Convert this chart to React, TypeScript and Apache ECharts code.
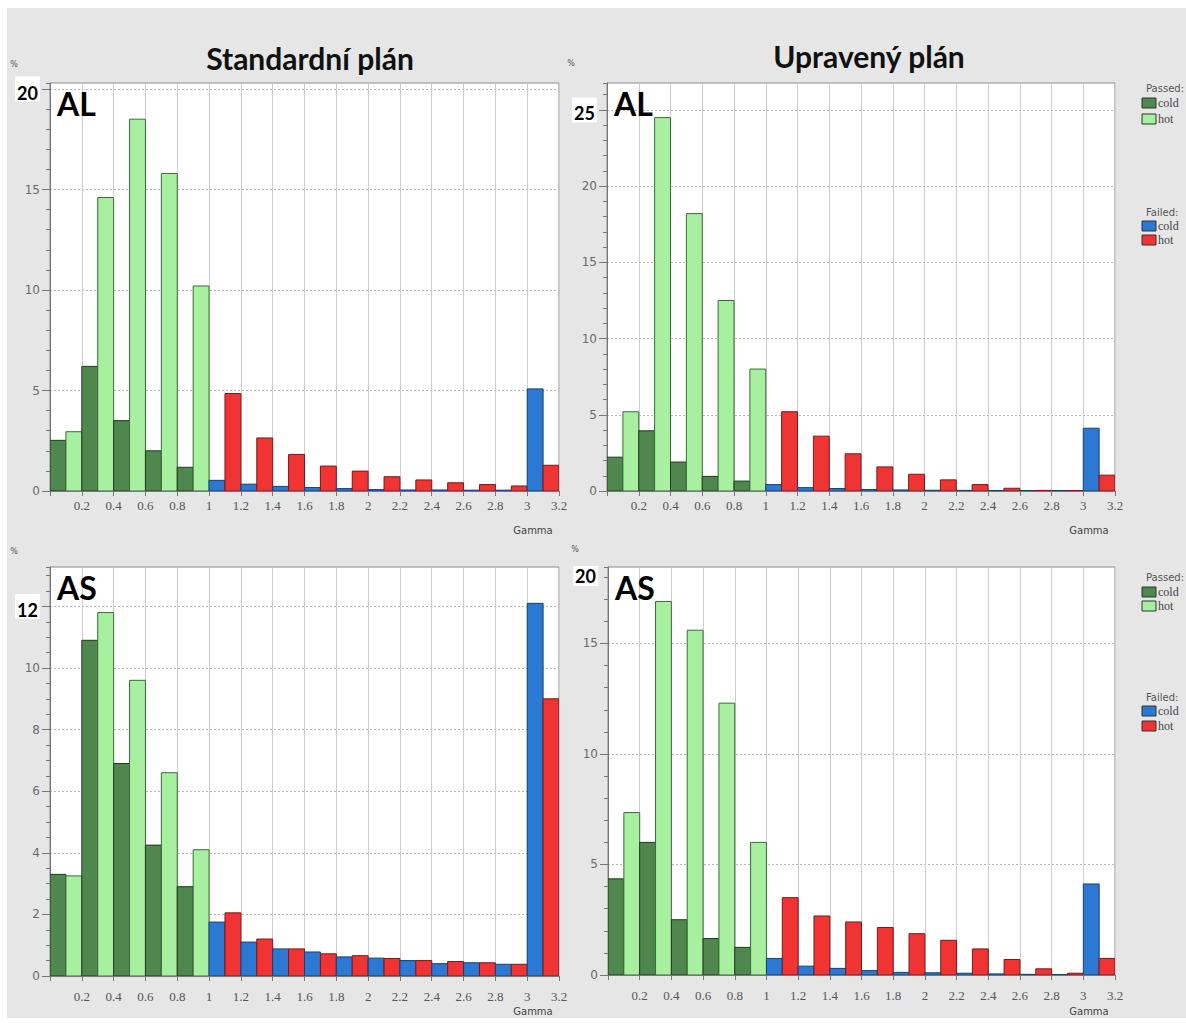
import React, { useEffect, useRef } from "react";
import * as echarts from "echarts";

// ---- data ----
const gammaEdges = [0, 0.2, 0.4, 0.6, 0.8, 1.0, 1.2, 1.4, 1.6, 1.8, 2.0, 2.2, 2.4, 2.6, 2.8, 3.0, 3.2];
const binStatus = [
  "passed", "passed", "passed", "passed", "passed",
  "failed", "failed", "failed", "failed", "failed", "failed", "failed", "failed", "failed", "failed", "failed",
];
const xTickLabels = [0.2, 0.4, 0.6, 0.8, 1, 1.2, 1.4, 1.6, 1.8, 2, 2.2, 2.4, 2.6, 2.8, 3, 3.2];

const yTicksStdAL = [0, 5, 10, 15, 20];
const yTicksUpdAL = [0, 5, 10, 15, 20, 25];
const yTicksStdAS = [0, 2, 4, 6, 8, 10, 12];
const yTicksUpdAS = [0, 5, 10, 15];

const stdALCold = [2.52, 6.2, 3.5, 2.0, 1.18, 0.53, 0.34, 0.23, 0.17, 0.12, 0.07, 0.05, 0.05, 0.04, 0.04, 5.08];
const stdALHot = [2.95, 14.6, 18.5, 15.8, 10.2, 4.85, 2.64, 1.82, 1.24, 0.99, 0.71, 0.55, 0.41, 0.32, 0.25, 1.28];
const updALCold = [2.22, 3.95, 1.9, 0.96, 0.65, 0.42, 0.22, 0.16, 0.1, 0.07, 0.05, 0.04, 0.03, 0.03, 0.03, 4.12];
const updALHot = [5.2, 24.5, 18.2, 12.5, 8.0, 5.2, 3.6, 2.44, 1.58, 1.1, 0.73, 0.42, 0.18, 0.04, 0.03, 1.04];
const stdASCold = [3.3, 10.9, 6.9, 4.25, 2.9, 1.75, 1.1, 0.88, 0.78, 0.62, 0.58, 0.5, 0.4, 0.43, 0.38, 12.1];
const stdASHot = [3.25, 11.8, 9.6, 6.6, 4.1, 2.05, 1.2, 0.88, 0.72, 0.66, 0.57, 0.5, 0.47, 0.43, 0.38, 9.0];
const updASCold = [4.35, 6.0, 2.5, 1.65, 1.25, 0.75, 0.4, 0.3, 0.2, 0.12, 0.1, 0.08, 0.05, 0.03, 0.02, 4.12];
const updASHot = [7.35, 16.9, 15.6, 12.3, 6.0, 3.5, 2.67, 2.4, 2.15, 1.87, 1.57, 1.18, 0.7, 0.28, 0.08, 0.75];

const legendGroups = [
  { title: "Passed:", items: [{ label: "cold", color: 0 }, { label: "hot", color: 1 }] },
  { title: "Failed:", items: [{ label: "cold", color: 2 }, { label: "hot", color: 3 }] },
];

// ---- styles ----
const fills = ["#4f874f", "#a6f0a0", "#2b79d2", "#f03434"];
const strokes = ["#1f3b1f", "#3d6b3a", "#16406f", "#7a1818"];

const panels = [
  { cold: stdALCold, hot: stdALHot, ticks: yTicksStdAL, bold: 20, yMax: 20.3, minor: 1,
    grid: { left: 50, top: 83, width: 509, height: 408 }, name: "AL", gammaY: 530, labelMargin: 8, pct: [14, 64] },
  { cold: updALCold, hot: updALHot, ticks: yTicksUpdAL, bold: 25, yMax: 26.77, minor: 1,
    grid: { left: 607, top: 83, width: 508, height: 408 }, name: "AL", gammaY: 530, labelMargin: 8, pct: [571, 63] },
  { cold: stdASCold, hot: stdASHot, ticks: yTicksStdAS, bold: 12, yMax: 13.28, minor: 0.5,
    grid: { left: 50, top: 567, width: 509, height: 409 }, name: "AS", gammaY: 1011, labelMargin: 14, pct: [14, 551] },
  { cold: updASCold, hot: updASHot, ticks: yTicksUpdAS, bold: -1, yMax: 18.46, minor: 1,
    grid: { left: 608, top: 567, width: 507, height: 408 }, name: "AS", gammaY: 1011, labelMargin: 14, pct: [575, 549] },
];

function buildData(cold: number[], hot: number[]) {
  const out: number[][] = [];
  for (let i = 0; i < cold.length; i++) {
    const x0 = gammaEdges[i];
    const x1 = gammaEdges[i + 1];
    const mid = (x0 + x1) / 2;
    const base = binStatus[i] === "passed" ? 0 : 2;
    out.push([x0, mid, cold[i], base]);
    out.push([mid, x1, hot[i], base + 1]);
  }
  return out;
}

const renderItem = (params: any, api: any) => {
  const x0 = api.value(0);
  const x1 = api.value(1);
  const v = api.value(2);
  const ci = api.value(3);
  const p0 = api.coord([x0, 0]);
  const p1 = api.coord([x1, v]);
  return {
    type: "rect",
    shape: { x: p0[0], y: p1[1], width: p1[0] - p0[0], height: p0[1] - p1[1] },
    style: { fill: fills[ci], stroke: strokes[ci], lineWidth: 1 },
  };
};

function buildLegend(x: number, y: number, offsets: number[]) {
  const els: any[] = [];
  let k = 0;
  legendGroups.forEach((g) => {
    els.push({
      type: "text", x: x + 4, y: y + offsets[k++], z: 50,
      style: { text: g.title, fontFamily: "DejaVu Sans", fontSize: 10, fill: "#555", verticalAlign: "middle" },
    });
    g.items.forEach((it) => {
      const yy = y + offsets[k++];
      els.push({
        type: "rect", z: 50, shape: { x: x, y: yy - 5, width: 14, height: 10 },
        style: { fill: fills[it.color], stroke: "#333", lineWidth: 1 },
      });
      els.push({
        type: "text", x: x + 16, y: yy, z: 50,
        style: { text: it.label, fontFamily: "Liberation Serif", fontSize: 12, fill: "#444", verticalAlign: "middle" },
      });
    });
  });
  return els;
}

export default function App() {
  const ref = useRef<HTMLDivElement>(null);
  useEffect(() => {
    document.body.style.margin = "0";
    document.body.style.overflow = "hidden";
    if (!ref.current) return;
    const chart = echarts.init(ref.current, undefined, { renderer: "svg" });

    const grids = panels.map((p) => ({
      ...p.grid, show: true, backgroundColor: "#ffffff", borderColor: "#8a8a8a", borderWidth: 1,
    }));

    const xAxes = panels.map((p, i) => ({
      gridIndex: i, type: "value", min: 0, max: 3.2, interval: 0.2,
      axisLine: { show: true, onZero: false, lineStyle: { color: "#777" } },
      axisTick: { show: true, length: 5, lineStyle: { color: "#777" } },
      axisLabel: {
        color: "#555", fontFamily: "Liberation Serif", fontSize: 13, margin: p.labelMargin,
        formatter: (v: number) => {
          const r = Math.round(v * 10) / 10;
          return xTickLabels.includes(r) ? String(r) : "";
        },
      },
      splitLine: { show: true, lineStyle: { color: "#cdcdcd", width: 1 } },
    }));

    const minorAxes = panels.map((p, i) => ({
      gridIndex: i, type: "value", min: 0, max: p.yMax, interval: p.minor,
      axisLine: { show: true, onZero: false, lineStyle: { color: "#777" } },
      axisTick: { show: true, length: 4, lineStyle: { color: "#777" } },
      axisLabel: { show: false },
      splitLine: { show: false },
    }));

    const majorAxes = panels.map((p, i) => ({
      gridIndex: i, type: "value", min: 0, max: p.yMax, interval: p.ticks[1] - p.ticks[0],
      position: "left",
      axisLine: { show: false },
      axisTick: { show: true, length: 8, lineStyle: { color: "#777" }, customValues: p.ticks },
      axisLabel: {
        customValues: p.ticks,
        color: "#6a6a6a", fontFamily: "DejaVu Sans", fontSize: 12, margin: 10,
        formatter: (v: number) => {
          if (!p.ticks.includes(v)) return "";
          return v === p.bold ? `{b|${v}}` : String(v);
        },
        rich: {
          b: { fontFamily: "Lato", fontWeight: "bold", fontSize: 18, color: "#000", backgroundColor: "#fff", padding: [7, 2, 0, 2] },
        },
      },
      splitLine: { show: true, lineStyle: { color: "#b8b8b8", type: [2, 2] } },
    }));

    const series = panels.map((p, i) => ({
      type: "custom", xAxisIndex: i, yAxisIndex: i, renderItem, clip: true,
      encode: { x: [0, 1], y: 2 },
      data: buildData(p.cold, p.hot),
    }));

    const graphic: any[] = [
      { type: "rect", shape: { x: 0, y: 0, width: 7, height: 1023 }, style: { fill: "#fff" }, z: 1 },
      { type: "rect", shape: { x: 0, y: 0, width: 1186, height: 8 }, style: { fill: "#fff" }, z: 1 },
      { type: "rect", shape: { x: 0, y: 1018, width: 1186, height: 5 }, style: { fill: "#fff" }, z: 1 },
      { type: "text", x: 310, y: 58, z: 50, style: { text: "Standardní plán", fontFamily: "Lato", fontWeight: "bold", fontSize: 30, fill: "#111", align: "center", verticalAlign: "middle" } },
      { type: "text", x: 869, y: 56, z: 50, style: { text: "Upravený plán", fontFamily: "Lato", fontWeight: "bold", fontSize: 30, fill: "#111", align: "center", verticalAlign: "middle" } },
      { type: "text", x: 598, y: 576, z: 50, style: { text: "20", fontFamily: "Lato", fontWeight: "bold", fontSize: 18, fill: "#000", align: "right", verticalAlign: "middle", backgroundColor: "#fff", padding: [2, 2, 0, 2] } },
      ...buildLegend(1142, 88, [0, 15, 31, 124, 138, 152]),
      ...buildLegend(1142, 577, [0, 15, 29, 120, 134, 149]),
    ];
    panels.forEach((p) => {
      graphic.push({
        type: "text", x: p.pct[0], y: p.pct[1], z: 50,
        style: { text: "%", fontFamily: "DejaVu Sans", fontSize: 8, fill: "#555", align: "center", verticalAlign: "middle" },
      });
      graphic.push({
        type: "text", x: p.grid.left + 7, y: p.grid.top + 20, z: 50,
        style: { text: p.name, fontFamily: "Lato", fontWeight: "bold", fontSize: 32, fill: "#000", verticalAlign: "middle" },
      });
      graphic.push({
        type: "text", x: p.grid.left + p.grid.width - 26, y: p.gammaY, z: 50,
        style: { text: "Gamma", fontFamily: "DejaVu Sans", fontSize: 10, fill: "#444", align: "center", verticalAlign: "middle" },
      });
    });

    chart.setOption({
      animation: false,
      backgroundColor: "#e6e6e6",
      grid: grids,
      xAxis: xAxes,
      yAxis: [...minorAxes, ...majorAxes],
      series,
      graphic,
    });
    return () => chart.dispose();
  }, []);
  return <div ref={ref} style={{ width: 1186, height: 1023 }} />;
}
